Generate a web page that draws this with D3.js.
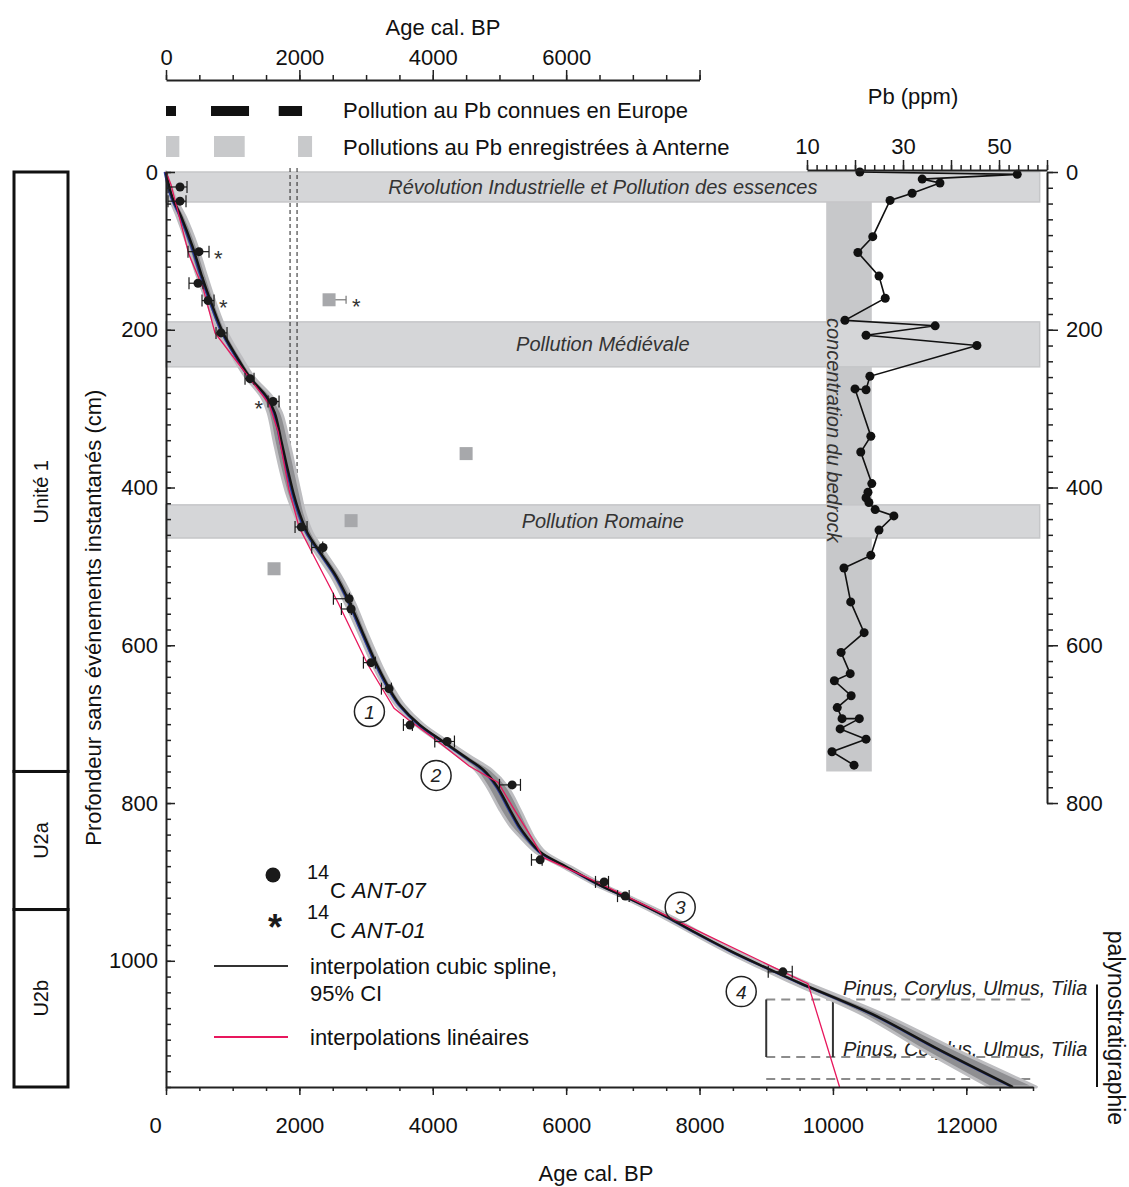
<!DOCTYPE html>
<html>
<head>
<meta charset="utf-8">
<script src="https://cdn.jsdelivr.net/npm/d3@7"></script>
<style>
  body { margin: 0; background: #fff; }
  svg { font-family: "Liberation Sans", Arial, sans-serif; }
</style>
</head>
<body>
<svg id="chart" width="1129" height="1187"></svg>
<script>
// ---- data ----
// age-depth spline: [age cal BP, depth cm, half width of 95% CI in years]
const splinePts = [
  [0,0,0],[95,32,40],[230,57,60],[400,95,70],[530,130,70],[680,166,60],[850,203,60],
  [1060,234,60],[1255,260,60],[1510,285,80],[1630,305,100],[1735,343,110],[1825,377,110],
  [1920,410,100],[2000,432,80],[2125,458,70],[2335,485,70],[2555,513,70],[2755,546,70],
  [2950,584,60],[3175,627,60],[3355,656,60],[3510,676,60],[3805,701,60],[4155,722,70],
  [4510,743,90],[4760,758,120],[4965,779,150],[5160,809,150],[5300,830,130],[5410,843,100],
  [5610,862,70],[6010,881,60],[6505,904,60],[7000,923,60],[7505,944,70],[8000,967,70],
  [8500,989,80],[9005,1009,90],[9500,1028,110],[10600,1068,160],[11600,1113,250],[12700,1160,350]
];
// linear interpolation vertices [age, depth]
const linearPts = [
  [0,0],[75,16],[345,105],[555,147],[735,204],[1275,264],[1545,294],[1680,329],[1845,403],
  [1995,450],[2205,485],[2580,546],[3030,625],[3420,680],[3630,694],[4080,722],[4545,753],
  [4980,774],[5220,808],[5475,843],[5655,869],[6480,901],[7725,952],[9625,1029],[10100,1160]
];
// 14C dates: [age, depth, err low, err high, asterisk side (0 none, 1 right, -1 left)]
const datesANT = [
  [210,19,30,315,0],[210,37,30,300,0],[495,101,330,645,1],[480,141,345,555,0],
  [630,163,540,720,1],[825,204,750,915,0],[1260,262,1185,1320,0],[1605,291,1530,1695,-1],
  [2030,450,1935,2115,0],[2355,476,2185,2350,0],[2745,541,2510,2750,0],[2775,554,2630,2780,0],
  [3075,622,2960,3140,0],[3345,655,3230,3380,0],[3660,701,3560,3695,0],[4215,722,4030,4325,0],
  [5190,777,5000,5315,0],[5610,872,5480,5640,0],[6570,900,6440,6635,0],[6885,918,6770,6945,0],
  [9250,1014,9030,9390,0]
];
// rejected dates (grey squares): [age, depth, err high, asterisk]
const rejectedDates = [[2445,162,2700,1],[4500,357,4500,0],[2775,442,2775,0],[1620,503,1680,0]];
// circled interval numbers
const circledNums = [[1,3050,684],[2,4050,765],[3,7710,932],[4,8625,1039]];

// Pb profile
const pbDepth = [0,3,9,14,27,36,82,102,132,160,188,195,207,220,259,276,275,335,355,395,406,413,
  419,428,436,454,486,502,545,584,609,636,645,664,679,693,693,706,719,735,752];
const pbValue = [21.0,53.8,34.0,37.7,31.9,27.3,23.7,20.6,25.0,26.3,17.9,36.7,22.3,45.4,23.1,22.3,
  20.0,23.3,21.2,23.5,22.7,22.3,22.9,24.2,28.1,25.0,23.3,17.7,19.1,21.9,17.1,19.0,15.7,19.2,
  16.3,17.3,20.9,16.9,22.3,15.2,19.8];
const bedrockRange = [14, 23.5, 0, 760];   // ppm min, ppm max, depth top, depth bottom

// pollution periods: [depth top, depth bottom, label]
const pollutionBands = [
  [0, 38, "Révolution Industrielle et Pollution des essences"],
  [190, 247, "Pollution Médiévale"],
  [422, 464, "Pollution Romaine"]
];
const bandEndAge = 13100;
const europeBars = [[0,150],[675,1245],[1690,2040]];
const anterneBars = [[0,200],[720,1180],[1980,2190]];
const dashedAges = [1860, 1965];
const dashedDepthEnd = 422;

const units = [[0,760,"Unité 1"],[760,935,"U2a"],[935,1160,"U2b"]];
const palynoDepths = [1049, 1122, 1150];
const palynoBracket = [9000, 10000];
const palynoLabels = [[1034, "Pinus, Corylus, Ulmus, Tilia"],[1112, "Pinus, Corylus, Ulmus, Tilia"]];

// ---- scales ----
const svg = d3.select("#chart");
const x = d3.scaleLinear().domain([0, 13000]).range([166, 1033]);
const y = d3.scaleLinear().domain([0, 1160]).range([172, 1087]);
const pbX = d3.scaleLinear().domain([10, 60]).range([807, 1047]);
const yR = d3.scaleLinear().domain([0, 800]).range([y(0), y(800)]);
const xTop = d3.scaleLinear().domain([0, 8000]).range([x(0), x(8000)]);
const fmt = d3.format("d");

const ink = "#1a1a1a";
const pink = "#e8175d";

function styleAxis(g, fs) {
  g.attr("font-family", null).attr("font-size", fs || 22);
  g.select(".domain").attr("stroke", "#222").attr("stroke-width", 2);
  g.selectAll(".tick line").attr("stroke", "#222").attr("stroke-width", 1.5);
  g.selectAll(".tick text").attr("fill", "#111");
}

// ---- bedrock + pollution bands ----
svg.append("rect")
  .attr("x", pbX(bedrockRange[0])).attr("width", pbX(bedrockRange[1]) - pbX(bedrockRange[0]))
  .attr("y", y(bedrockRange[2])).attr("height", y(bedrockRange[3]) - y(bedrockRange[2]))
  .attr("fill", "#c7c8ca");

svg.selectAll(".band").data(pollutionBands).enter().append("rect")
  .attr("x", x(0)).attr("width", x(bandEndAge) - x(0))
  .attr("y", d => y(d[0])).attr("height", d => y(d[1]) - y(d[0]))
  .attr("fill", "#d5d6d8").attr("stroke", "#c5c6c8").attr("stroke-width", 1.5);

svg.selectAll(".bandlabel").data(pollutionBands).enter().append("text")
  .attr("x", x(bandEndAge / 2)).attr("y", d => y((d[0] + d[1]) / 2) + 7)
  .attr("text-anchor", "middle").attr("font-size", 20).attr("font-style", "italic")
  .attr("fill", "#333").text(d => d[2]);

svg.append("text")
  .attr("transform", `translate(${pbX(bedrockRange[0]) + 1},${y(185)}) rotate(90)`)
  .attr("font-size", 20).attr("font-style", "italic").attr("fill", "#333")
  .text("concentration du bedrock");

// dashed reference lines
svg.selectAll(".dash").data(dashedAges).enter().append("line")
  .attr("x1", d => x(d)).attr("x2", d => x(d))
  .attr("y1", y(0) - 4).attr("y2", y(dashedDepthEnd))
  .attr("stroke", "#222").attr("stroke-width", 1).attr("stroke-dasharray", "4,3");

// ---- palynostratigraphy marks (under the curve) ----
svg.selectAll(".paly").data(palynoDepths).enter().append("line")
  .attr("x1", x(palynoBracket[0])).attr("x2", x(13000))
  .attr("y1", d => y(d)).attr("y2", d => y(d))
  .attr("stroke", "#8c8c8c").attr("stroke-width", 2).attr("stroke-dasharray", "9,6");
svg.selectAll(".bracket").data(palynoBracket).enter().append("line")
  .attr("x1", d => x(d)).attr("x2", d => x(d))
  .attr("y1", y(palynoDepths[0])).attr("y2", y(palynoDepths[1]))
  .attr("stroke", "#333").attr("stroke-width", 2);
svg.selectAll(".palytxt").data(palynoLabels).enter().append("text")
  .attr("x", x(palynoBracket[1]) + 10).attr("y", d => y(d[0]) + 7)
  .attr("font-size", 20).attr("font-style", "italic").attr("fill", "#222").text(d => d[1]);

// ---- age-depth model ----
const ciArea = d3.area()
  .y(d => y(d[1])).x0(d => x(d[0] - d[2])).x1(d => x(d[0] + d[2]))
  .curve(d3.curveCatmullRom);
svg.append("path").datum(splinePts).attr("d", ciArea)
  .attr("fill", "#8f8f92").attr("stroke", "#bdbdc0").attr("stroke-width", 3)
  .attr("stroke-linejoin", "round");

const splineLine = d3.line().x(d => x(d[0])).y(d => y(d[1])).curve(d3.curveCatmullRom);
svg.append("path").datum(splinePts).attr("d", splineLine)
  .attr("transform", "translate(-1.5,0)")
  .attr("fill", "none").attr("stroke", "#2b3d9c").attr("stroke-width", 1.8);
svg.append("path").datum(splinePts).attr("d", splineLine)
  .attr("fill", "none").attr("stroke", "#141414").attr("stroke-width", 2.4);

svg.append("path").datum(linearPts)
  .attr("d", d3.line().x(d => x(d[0])).y(d => y(d[1])))
  .attr("fill", "none").attr("stroke", pink).attr("stroke-width", 1.3);

// dates with error bars
const dg = svg.selectAll(".date").data(datesANT).enter().append("g");
dg.append("line").attr("x1", d => x(d[2])).attr("x2", d => x(d[3]))
  .attr("y1", d => y(d[1])).attr("y2", d => y(d[1])).attr("stroke", ink).attr("stroke-width", 1.2);
dg.append("line").attr("x1", d => x(d[2])).attr("x2", d => x(d[2]))
  .attr("y1", d => y(d[1]) - 6).attr("y2", d => y(d[1]) + 6).attr("stroke", ink).attr("stroke-width", 1.2);
dg.append("line").attr("x1", d => x(d[3])).attr("x2", d => x(d[3]))
  .attr("y1", d => y(d[1]) - 6).attr("y2", d => y(d[1]) + 6).attr("stroke", ink).attr("stroke-width", 1.2);
dg.append("circle").attr("cx", d => x(d[0])).attr("cy", d => y(d[1])).attr("r", 4.5).attr("fill", ink);
dg.filter(d => d[4] !== 0).append("text")
  .attr("x", d => d[4] > 0 ? x(d[3]) + 5 : x(d[2]) - 5)
  .attr("y", d => y(d[1]) + 14)
  .attr("text-anchor", d => d[4] > 0 ? "start" : "end")
  .attr("font-size", 22).attr("fill", "#333").text("*");

// rejected dates
const rg = svg.selectAll(".rej").data(rejectedDates).enter().append("g");
rg.filter(d => d[2] > d[0]).append("line")
  .attr("x1", d => x(d[0])).attr("x2", d => x(d[2]))
  .attr("y1", d => y(d[1])).attr("y2", d => y(d[1])).attr("stroke", "#777").attr("stroke-width", 1.2);
rg.filter(d => d[2] > d[0] + 100).append("line")
  .attr("x1", d => x(d[2])).attr("x2", d => x(d[2]))
  .attr("y1", d => y(d[1]) - 4).attr("y2", d => y(d[1]) + 4).attr("stroke", "#777").attr("stroke-width", 1.2);
rg.append("rect").attr("x", d => x(d[0]) - 6.5).attr("y", d => y(d[1]) - 6.5)
  .attr("width", 13).attr("height", 13).attr("fill", "#a7a8ab");
rg.filter(d => d[3]).append("text").attr("x", d => x(d[2]) + 6).attr("y", d => y(d[1]) + 14)
  .attr("font-size", 22).attr("fill", "#333").text("*");

// circled numbers
const cg = svg.selectAll(".num").data(circledNums).enter().append("g")
  .attr("transform", d => `translate(${x(d[1])},${y(d[2])})`);
cg.append("circle").attr("r", 15).attr("fill", "none").attr("stroke", "#222").attr("stroke-width", 1.5);
cg.append("text").attr("text-anchor", "middle").attr("y", 7).attr("font-size", 19)
  .attr("font-style", "italic").attr("fill", "#222").text(d => d[0]);

// ---- Pb profile ----
const pbData = pbDepth.map((d, i) => [d, pbValue[i]]);
svg.append("path").datum(pbData)
  .attr("d", d3.line().x(d => pbX(d[1])).y(d => y(d[0])))
  .attr("fill", "none").attr("stroke", "#111").attr("stroke-width", 1.6);
svg.selectAll(".pb").data(pbData).enter().append("circle")
  .attr("cx", d => pbX(d[1])).attr("cy", d => y(d[0])).attr("r", 4.5).attr("fill", "#111");

// ---- axes ----
// left depth axis
const yMinor = svg.append("g").attr("transform", `translate(${x(0)},0)`)
  .call(d3.axisLeft(y).tickValues(d3.range(0, 1161, 20)).tickSizeInner(-5).tickSizeOuter(0).tickFormat(""));
styleAxis(yMinor);
const yMajor = svg.append("g").attr("transform", `translate(${x(0)},0)`)
  .call(d3.axisLeft(y).tickValues(d3.range(0, 1001, 200)).tickSizeInner(-9).tickSizeOuter(0)
    .tickPadding(8).tickFormat(fmt));
styleAxis(yMajor);
yMajor.select(".domain").remove();

// bottom age axis
const xMinor = svg.append("g").attr("transform", `translate(0,${y(1160)})`)
  .call(d3.axisBottom(x).tickValues(d3.range(0, 13001, 500)).tickSizeInner(4).tickSizeOuter(0).tickFormat(""));
styleAxis(xMinor);
const xMajor = svg.append("g").attr("transform", `translate(0,${y(1160)})`)
  .call(d3.axisBottom(x).tickValues(d3.range(0, 12001, 2000)).tickSizeInner(8).tickSizeOuter(0)
    .tickPadding(22).tickFormat(fmt));
styleAxis(xMajor);
xMajor.select(".domain").remove();
xMajor.selectAll(".tick text").filter(d => d === 0).attr("dx", -11);

svg.append("text").attr("x", 596).attr("y", 1181).attr("text-anchor", "middle")
  .attr("font-size", 22).attr("fill", "#111").text("Age cal. BP");
svg.append("text").attr("transform", `translate(101,${y(565)}) rotate(-90)`)
  .attr("text-anchor", "middle").attr("font-size", 22).attr("fill", "#111")
  .text("Profondeur sans événements instantanés (cm)");

// top age axis
const tMinor = svg.append("g").attr("transform", "translate(0,80)")
  .call(d3.axisTop(xTop).tickValues(d3.range(0, 8001, 500)).tickSizeInner(5).tickSizeOuter(0).tickFormat(""));
styleAxis(tMinor);
const tMajor = svg.append("g").attr("transform", "translate(0,80)")
  .call(d3.axisTop(xTop).tickValues(d3.range(0, 8001, 2000)).tickSizeInner(10).tickSizeOuter(0).tickPadding(5)
    .tickFormat(d => d === 8000 ? "" : fmt(d)));
styleAxis(tMajor);
tMajor.select(".domain").remove();
svg.append("text").attr("x", 443).attr("y", 35).attr("text-anchor", "middle")
  .attr("font-size", 22).attr("fill", "#111").text("Age cal. BP");

// pollution legend bars
svg.selectAll(".eu").data(europeBars).enter().append("rect")
  .attr("x", d => xTop(d[0])).attr("width", d => xTop(d[1]) - xTop(d[0]))
  .attr("y", 106).attr("height", 10).attr("fill", "#111");
svg.selectAll(".an").data(anterneBars).enter().append("rect")
  .attr("x", d => xTop(d[0])).attr("width", d => xTop(d[1]) - xTop(d[0]))
  .attr("y", 136).attr("height", 21).attr("fill", "#c8c9cb");
svg.append("text").attr("x", 343).attr("y", 118).attr("font-size", 22).attr("fill", "#111")
  .text("Pollution au Pb connues en Europe");
svg.append("text").attr("x", 343).attr("y", 155).attr("font-size", 22).attr("fill", "#111")
  .text("Pollutions au Pb enregistrées à Anterne");

// Pb axis (top) and right depth axis
const pMinor = svg.append("g").attr("transform", `translate(0,${y(0) - 2})`)
  .call(d3.axisTop(pbX).tickValues(d3.range(10, 61, 2)).tickSizeInner(5).tickSizeOuter(0).tickFormat(""));
styleAxis(pMinor);
const pMajor = svg.append("g").attr("transform", `translate(0,${y(0) - 2})`)
  .call(d3.axisTop(pbX).tickValues(d3.range(10, 61, 10)).tickSizeInner(10).tickSizeOuter(0).tickPadding(6)
    .tickFormat(d => [10, 30, 50].includes(d) ? d : ""));
styleAxis(pMajor);
pMajor.select(".domain").remove();
svg.append("text").attr("x", 913).attr("y", 104).attr("text-anchor", "middle")
  .attr("font-size", 22).attr("fill", "#111").text("Pb (ppm)");

const rMinor = svg.append("g").attr("transform", `translate(${pbX(60)},0)`)
  .call(d3.axisRight(yR).tickValues(d3.range(0, 801, 20)).tickSizeInner(6).tickSizeOuter(0).tickFormat(""));
styleAxis(rMinor);
const rMajor = svg.append("g").attr("transform", `translate(${pbX(60)},0)`)
  .call(d3.axisRight(yR).tickValues(d3.range(0, 801, 200)).tickSizeInner(11).tickSizeOuter(0)
    .tickPadding(8).tickFormat(fmt));
styleAxis(rMajor);
rMajor.select(".domain").remove();

// ---- stratigraphic column ----
const col = svg.append("g");
col.selectAll("rect").data(units).enter().append("rect")
  .attr("x", 14).attr("width", 54)
  .attr("y", d => y(d[0])).attr("height", d => y(d[1]) - y(d[0]))
  .attr("fill", "none").attr("stroke", "#111").attr("stroke-width", 3);
col.selectAll("text").data(units).enter().append("text")
  .attr("transform", (d, i) => `translate(48,${y((d[0] + d[1]) / 2) + (i === 0 ? 20 : 0)}) rotate(-90)`)
  .attr("text-anchor", "middle").attr("font-size", 20).attr("fill", "#111").text(d => d[2]);

// ---- bottom-left legend ----
const lg = svg.append("g");
lg.append("circle").attr("cx", 273).attr("cy", 875).attr("r", 7.5).attr("fill", ink);
lg.append("text").attr("x", 275).attr("y", 940).attr("text-anchor", "middle")
  .attr("font-size", 36).attr("font-weight", "bold").attr("fill", ink).text("*");
[["ANT-07", 879], ["ANT-01", 919]].forEach(([lab, yy]) => {
  lg.append("text").attr("x", 307).attr("y", yy).attr("font-size", 20).attr("fill", "#111").text("14");
  const t = lg.append("text").attr("x", 330).attr("y", yy + 19).attr("font-size", 22).attr("fill", "#111");
  t.append("tspan").text("C ");
  t.append("tspan").attr("font-style", "italic").text(lab);
});
lg.append("line").attr("x1", 214).attr("x2", 288).attr("y1", 966).attr("y2", 966)
  .attr("stroke", "#333").attr("stroke-width", 2);
lg.append("text").attr("x", 310).attr("y", 974).attr("font-size", 22).attr("fill", "#111")
  .text("interpolation cubic spline,");
lg.append("text").attr("x", 310).attr("y", 1001).attr("font-size", 22).attr("fill", "#111")
  .text("95% CI");
lg.append("line").attr("x1", 214).attr("x2", 288).attr("y1", 1037).attr("y2", 1037)
  .attr("stroke", pink).attr("stroke-width", 2);
lg.append("text").attr("x", 310).attr("y", 1045).attr("font-size", 22).attr("fill", "#111")
  .text("interpolations linéaires");

// palynostratigraphie label
svg.append("line").attr("x1", 1097).attr("x2", 1097).attr("y1", y(1030)).attr("y2", y(1160))
  .attr("stroke", "#111").attr("stroke-width", 2);
svg.append("text").attr("transform", `translate(1108,${y(962)}) rotate(90)`)
  .attr("font-size", 23).attr("fill", "#111").text("palynostratigraphie");
</script>
</body>
</html>
